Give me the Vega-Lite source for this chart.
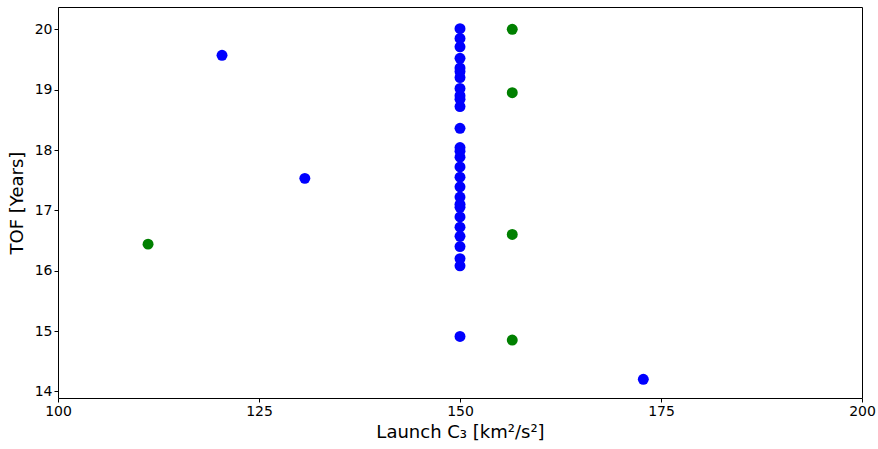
{
  "$schema": "https://vega.github.io/schema/vega-lite/v6.json",
  "width": 804,
  "height": 391,
  "autosize": {"type": "none"},
  "padding": {"left": 58, "top": 7, "right": 16, "bottom": 51},
  "background": "white",
  "config": {
    "view": {"stroke": "#000000", "strokeWidth": 1},
    "font": "DejaVu Sans",
    "axis": {
      "grid": false,
      "domain": false,
      "tickColor": "#000000",
      "tickSize": 4,
      "labelColor": "#000000",
      "labelFontSize": 14,
      "labelFlush": false,
      "labelOverlap": false,
      "labelFont": "DejaVu Sans",
      "titleFont": "DejaVu Sans",
      "titleFontSize": 18,
      "titleFontWeight": "normal",
      "titleColor": "#000000"
    }
  },
  "data": {
    "values": [
      {"c3": 150, "tof": 20.01, "s": "blue"},
      {"c3": 150, "tof": 19.85, "s": "blue"},
      {"c3": 150, "tof": 19.71, "s": "blue"},
      {"c3": 150, "tof": 19.52, "s": "blue"},
      {"c3": 150, "tof": 19.36, "s": "blue"},
      {"c3": 150, "tof": 19.3, "s": "blue"},
      {"c3": 150, "tof": 19.2, "s": "blue"},
      {"c3": 150, "tof": 19.02, "s": "blue"},
      {"c3": 150, "tof": 18.9, "s": "blue"},
      {"c3": 150, "tof": 18.84, "s": "blue"},
      {"c3": 150, "tof": 18.72, "s": "blue"},
      {"c3": 150, "tof": 18.36, "s": "blue"},
      {"c3": 150, "tof": 18.04, "s": "blue"},
      {"c3": 150, "tof": 17.98, "s": "blue"},
      {"c3": 150, "tof": 17.88, "s": "blue"},
      {"c3": 150, "tof": 17.72, "s": "blue"},
      {"c3": 150, "tof": 17.55, "s": "blue"},
      {"c3": 150, "tof": 17.39, "s": "blue"},
      {"c3": 150, "tof": 17.22, "s": "blue"},
      {"c3": 150, "tof": 17.1, "s": "blue"},
      {"c3": 150, "tof": 17.05, "s": "blue"},
      {"c3": 150, "tof": 16.89, "s": "blue"},
      {"c3": 150, "tof": 16.72, "s": "blue"},
      {"c3": 150, "tof": 16.57, "s": "blue"},
      {"c3": 150, "tof": 16.4, "s": "blue"},
      {"c3": 150, "tof": 16.2, "s": "blue"},
      {"c3": 150, "tof": 16.08, "s": "blue"},
      {"c3": 150, "tof": 14.91, "s": "blue"},
      {"c3": 120.4, "tof": 19.57, "s": "blue"},
      {"c3": 130.7, "tof": 17.53, "s": "blue"},
      {"c3": 172.8, "tof": 14.2, "s": "blue"},
      {"c3": 111.2, "tof": 16.44, "s": "green"},
      {"c3": 156.5, "tof": 20.0, "s": "green"},
      {"c3": 156.5, "tof": 18.95, "s": "green"},
      {"c3": 156.5, "tof": 16.6, "s": "green"},
      {"c3": 156.5, "tof": 14.85, "s": "green"}
    ]
  },
  "mark": {"type": "point", "filled": true, "opacity": 1, "size": 120},
  "encoding": {
    "x": {
      "field": "c3",
      "type": "quantitative",
      "scale": {"domain": [100, 200], "nice": false, "zero": false},
      "axis": {"values": [100, 125, 150, 175, 200], "title": "Launch C₃ [km²/s²]", "titlePadding": 5}
    },
    "y": {
      "field": "tof",
      "type": "quantitative",
      "scale": {"domain": [13.89, 20.37], "nice": false, "zero": false},
      "axis": {"values": [14, 15, 16, 17, 18, 19, 20], "title": "TOF [Years]", "titlePadding": 8}
    },
    "color": {
      "field": "s",
      "type": "nominal",
      "scale": {"domain": ["blue", "green"], "range": ["#0000ff", "#008000"]},
      "legend": null
    }
  }
}
